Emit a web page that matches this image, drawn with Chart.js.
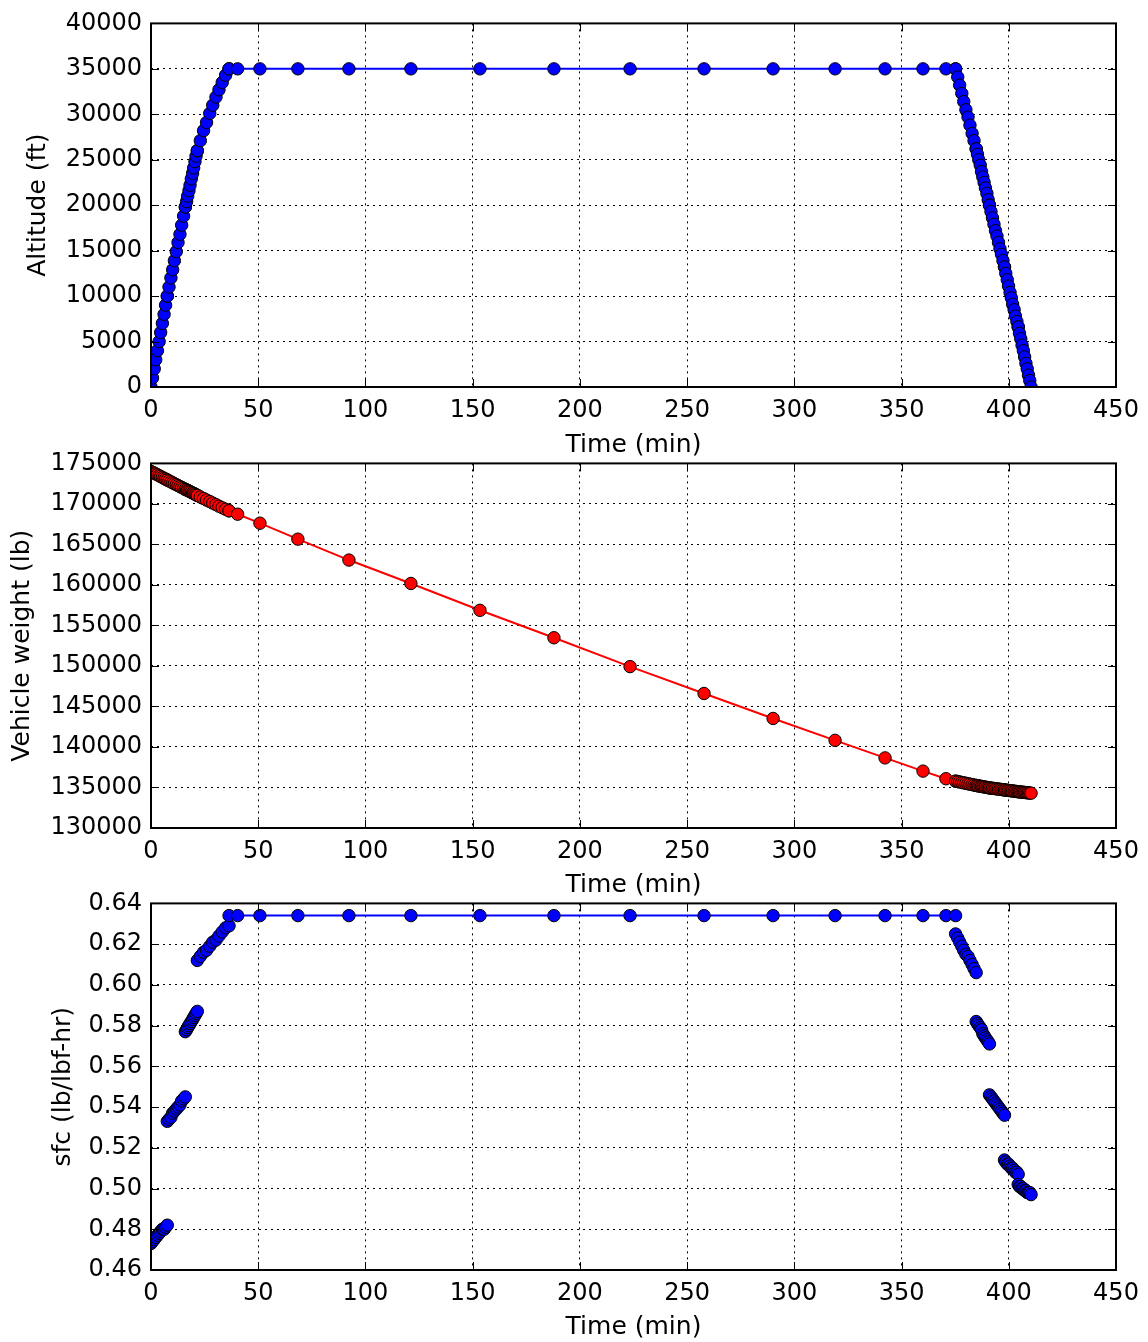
<!DOCTYPE html>
<html>
<head>
<meta charset="utf-8">
<script src="https://cdn.jsdelivr.net/npm/chart.js@4.4.1/dist/chart.umd.min.js"></script>
<style>
    body { margin: 0; background: #fff; }
    #wrap { position: relative; width: 1148px; height: 1342px; }
    canvas { position: absolute; left: 0; }
</style>
</head>
<body>
<div id="wrap">
    <canvas id="altChart" width="1148" height="460" style="top:0px"></canvas>
    <canvas id="weightChart" width="1148" height="460" style="top:440px"></canvas>
    <canvas id="sfcChart" width="1148" height="462" style="top:880px"></canvas>
</div>
<script>
// Flight segments: 4 climb legs, cruise, 5 descent legs
const segmentNames = ['climb 1', 'climb 2', 'climb 3', 'climb 4', 'cruise',
    'descent 1', 'descent 2', 'descent 3', 'descent 4', 'descent 5'];

// Time (min) for each point, grouped per segment
const timeMin = [
    [0, 0.7, 1.5, 2.2, 3.0, 3.8, 4.5, 5.3, 6.1, 6.8, 7.6],
    [7.6, 8.4, 9.3, 10.1, 10.9, 11.8, 12.6, 13.5, 14.3, 15.2, 16.0],
    [16.0, 16.6, 17.1, 17.7, 18.2, 18.8, 19.4, 19.9, 20.5, 21.0, 21.6],
    [21.6, 23.0, 24.5, 25.9, 27.4, 28.8, 30.3, 31.7, 33.2, 34.8, 36.4],
    [36.4, 40.4, 50.8, 68.5, 92.3, 121.2, 153.4, 187.9, 223.4, 257.9, 290.1, 319.0, 342.3, 360.0, 370.7, 375.2],
    [375.2, 376.2, 377.1, 378.1, 379.0, 380.0, 381.0, 381.9, 382.9, 383.8, 384.8],
    [384.8, 385.4, 386.0, 386.7, 387.3, 387.9, 388.5, 389.1, 389.8, 390.4, 391.0],
    [391.0, 391.7, 392.4, 393.1, 393.8, 394.5, 395.2, 395.9, 396.6, 397.3, 398.0],
    [398.0, 398.6, 399.3, 399.9, 400.6, 401.2, 401.8, 402.5, 403.1, 403.8, 404.4],
    [404.4, 405.0, 405.6, 406.2, 406.8, 407.4, 408.0, 408.6, 409.2, 409.8, 410.4]
];

// Altitude (ft)
const altitudeFt = [
    [0, 1000, 2000, 3000, 4000, 5000, 6000, 7000, 8000, 9000, 10000],
    [10000, 11000, 12000, 12900, 13900, 14900, 15900, 16800, 17800, 18800, 19800],
    [19800, 20400, 21000, 21600, 22200, 22900, 23500, 24100, 24800, 25400, 26000],
    [26000, 27100, 28200, 29100, 30100, 31000, 31900, 32700, 33500, 34300, 35000],
    [35000, 35000, 35000, 35000, 35000, 35000, 35000, 35000, 35000, 35000, 35000, 35000, 35000, 35000, 35000, 35000],
    [35000, 34100, 33200, 32300, 31400, 30500, 29700, 28800, 27900, 27100, 26200],
    [26200, 25600, 25000, 24400, 23700, 23100, 22500, 21900, 21300, 20600, 20000],
    [20000, 19300, 18600, 17900, 17200, 16600, 15900, 15200, 14600, 13900, 13200],
    [13200, 12500, 11800, 11100, 10400, 9800, 9100, 8500, 7800, 7200, 6600],
    [6600, 5900, 5300, 4600, 4000, 3300, 2600, 2000, 1300, 700, 0]
];

// Vehicle weight (lb)
const weightLb = [
    [174000, 173900, 173800, 173700, 173600, 173480, 173380, 173270, 173160, 173060, 172950],
    [172950, 172840, 172720, 172610, 172490, 172380, 172260, 172150, 172030, 171920, 171800],
    [171800, 171730, 171660, 171590, 171520, 171430, 171360, 171290, 171210, 171140, 171050],
    [171050, 170860, 170670, 170480, 170290, 170100, 169910, 169720, 169530, 169340, 169150],
    [169150, 168730, 167620, 165650, 163070, 160180, 156870, 153480, 149920, 146600, 143520, 140820, 138650, 137020, 136080, 135780],
    [135780, 135730, 135680, 135620, 135570, 135520, 135460, 135410, 135360, 135300, 135250],
    [135250, 135220, 135190, 135160, 135130, 135100, 135070, 135040, 135010, 134980, 134950],
    [134950, 134930, 134900, 134880, 134850, 134830, 134800, 134780, 134750, 134730, 134700],
    [134700, 134680, 134660, 134630, 134610, 134590, 134570, 134550, 134520, 134500, 134480],
    [134480, 134460, 134440, 134420, 134410, 134390, 134370, 134350, 134330, 134320, 134300]
];

// Specific fuel consumption (lb/lbf-hr)
const sfc = [
    [0.473, 0.474, 0.475, 0.476, 0.477, 0.478, 0.479, 0.480, 0.480, 0.481, 0.482],
    [0.533, 0.534, 0.535, 0.537, 0.538, 0.539, 0.540, 0.541, 0.543, 0.544, 0.545],
    [0.577, 0.578, 0.579, 0.580, 0.581, 0.582, 0.583, 0.584, 0.585, 0.586, 0.587],
    [0.612, 0.614, 0.616, 0.617, 0.619, 0.621, 0.622, 0.624, 0.626, 0.628, 0.629],
    [0.634, 0.634, 0.634, 0.634, 0.634, 0.634, 0.634, 0.634, 0.634, 0.634, 0.634, 0.634, 0.634, 0.634, 0.634, 0.634],
    [0.625, 0.623, 0.621, 0.619, 0.617, 0.615, 0.614, 0.612, 0.610, 0.608, 0.606],
    [0.582, 0.581, 0.580, 0.579, 0.578, 0.576, 0.575, 0.574, 0.573, 0.572, 0.571],
    [0.546, 0.545, 0.544, 0.543, 0.542, 0.541, 0.540, 0.539, 0.538, 0.537, 0.536],
    [0.514, 0.513, 0.512, 0.512, 0.511, 0.510, 0.510, 0.509, 0.508, 0.508, 0.507],
    [0.502, 0.501, 0.501, 0.500, 0.500, 0.499, 0.499, 0.498, 0.498, 0.498, 0.497]
];

const FONT = "'DejaVu Sans', sans-serif";

// matplotlib-style frame with inward ticks on all four sides
const mplFrame = {
    id: 'mplFrame',
    afterDraw(chart) {
        const { ctx, chartArea: a, scales } = chart;
        const len = 8;
        ctx.save();
        ctx.strokeStyle = '#000';
        ctx.lineWidth = 1;
        ctx.beginPath();
        scales.x.ticks.forEach(t => {
            const px = Math.round(scales.x.getPixelForValue(t.value)) + 0.5;
            ctx.moveTo(px, a.bottom); ctx.lineTo(px, a.bottom - len);
            ctx.moveTo(px, a.top); ctx.lineTo(px, a.top + len);
        });
        scales.y.ticks.forEach(t => {
            const py = Math.round(scales.y.getPixelForValue(t.value)) + 0.5;
            ctx.moveTo(a.left, py); ctx.lineTo(a.left + len, py);
            ctx.moveTo(a.right, py); ctx.lineTo(a.right - len, py);
        });
        ctx.stroke();
        ctx.lineWidth = 2;
        ctx.strokeRect(a.left, a.top, a.right - a.left, a.bottom - a.top);
        ctx.restore();
    }
};

function segmentDatasets(values, color) {
    return timeMin.map((times, s) => ({
        label: segmentNames[s],
        data: times.map((t, i) => ({ x: t, y: values[s][i] })),
        borderColor: color,
        backgroundColor: color,
        pointBackgroundColor: color,
        pointBorderColor: '#000',
        pointBorderWidth: 1,
        pointRadius: 6.2,
        borderWidth: 2,
        tension: 0,
        order: -s
    }));
}

function makeChart(id, values, color, yMin, yMax, yStep, yLabel, yTitlePad, xAxisHeight, fmt) {
    new Chart(document.getElementById(id), {
        type: 'line',
        data: { datasets: segmentDatasets(values, color) },
        plugins: [mplFrame],
        options: {
            responsive: false,
            animation: false,
            devicePixelRatio: 1,
            layout: { padding: { top: 22, right: 32, left: 0, bottom: 0 } },
            plugins: { legend: { display: false }, tooltip: { enabled: false } },
            scales: {
                x: {
                    type: 'linear',
                    min: 0,
                    max: 450,
                    afterFit: scale => { scale.height = xAxisHeight; },
                    ticks: {
                        stepSize: 50, padding: 9, color: '#000', maxRotation: 0, autoSkip: false,
                        font: { family: FONT, size: 24 }
                    },
                    grid: { color: '#000', lineWidth: 1, drawTicks: false },
                    border: { display: false, dash: [2, 4] },
                    title: {
                        display: true, text: 'Time (min)', color: '#000',
                        font: { family: FONT, size: 25 }, padding: { top: 0, bottom: 0 }
                    }
                },
                y: {
                    type: 'linear',
                    min: yMin,
                    max: yMax,
                    afterFit: scale => { scale.width = 151; },
                    ticks: {
                        stepSize: yStep, padding: 9, color: '#000', autoSkip: false,
                        font: { family: FONT, size: 24 },
                        callback: v => fmt(v)
                    },
                    grid: { color: '#000', lineWidth: 1, drawTicks: false },
                    border: { display: false, dash: [2, 4] },
                    title: {
                        display: true, text: yLabel, color: '#000',
                        font: { family: FONT, size: 25 }, padding: { top: yTitlePad, bottom: 0 }
                    }
                }
            }
        }
    });
}

const intFmt = v => String(Math.round(v));
makeChart('altChart', altitudeFt, '#0000ff', 0, 40000, 5000, 'Altitude (ft)', 23, 73, intFmt);
makeChart('weightChart', weightLb, '#ff0000', 130000, 175000, 5000, 'Vehicle weight (lb)', 7, 72, intFmt);
makeChart('sfcChart', sfc, '#0000ff', 0.46, 0.64, 0.02, 'sfc (lb/lbf-hr)', 48, 72, v => v.toFixed(2));
</script>
</body>
</html>
